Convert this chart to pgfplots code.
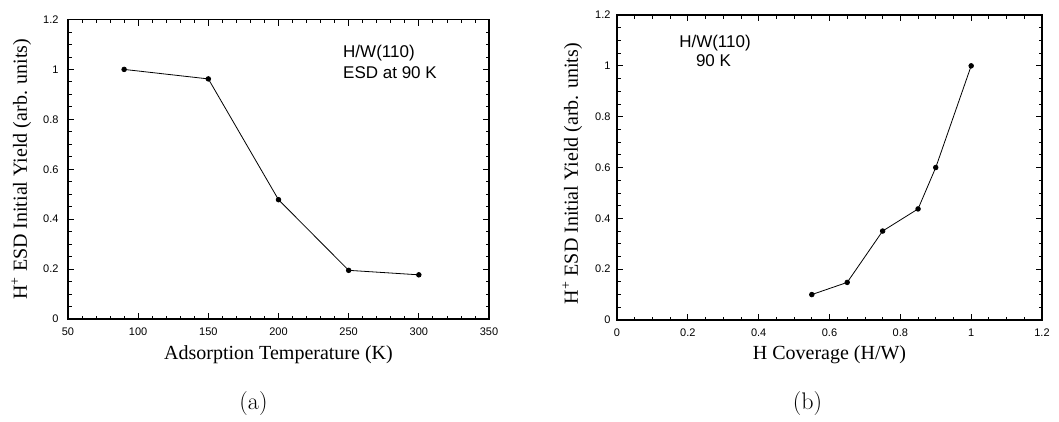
\documentclass[border=0pt]{standalone}
\usepackage{pgfplots}
\pgfplotsset{compat=1.18}
\usepackage{fontspec}
\newfontfamily\helv{Liberation Sans}
\newfontfamily\tms{Liberation Serif}

\pgfplotsset{
  esdaxis/.style={
    scale only axis,
    axis line style={line width=1.1pt},
    every tick/.style={line width=0.8pt, black},
    major tick length=6pt, minor tick length=3.5pt,
    tick align=inside,
    ymin=0, ymax=1.2,
    ytick={0,0.2,0.4,0.6,0.8,1,1.2},
    minor y tick num=3,
    /pgf/number format/assume math mode=true,
    tick label style={font=\helv\fontsize{11}{13}\selectfont},
    label style={font=\tms\fontsize{20}{24}\selectfont},
    xticklabel style={yshift=-5pt},
    ylabel={H\textsuperscript{+} ESD Initial Yield (arb. units)},
  },
  yieldline/.style={black, line width=0.8pt, mark=*, mark size=2.3pt,
    mark options={solid, fill=black}},
}

\begin{document}
\begin{tikzpicture}[x=1pt, y=1pt]
\useasboundingbox (0,-422) rectangle (1059,0);

% (a) yield versus adsorption temperature
\begin{axis}[esdaxis,
  at={(68pt,-319pt)}, anchor=south west,
  width=421pt, height=299.5pt,
  xmin=50, xmax=350,
  xtick={50,100,150,200,250,300,350},
  minor x tick num=4,
  yticklabel style={xshift=-6pt},
  xlabel={Adsorption Temperature (K)},
  xlabel style={at={(axis description cs:0.5,-0.1336)}, anchor=base},
  ylabel style={at={(axis description cs:-0.0974,0.5)}, anchor=base},
]
\addplot[yieldline] coordinates {
  (90,1.0) (150,0.962) (200,0.478) (250,0.195) (300,0.177)
};
\end{axis}

% (b) yield versus coverage
\begin{axis}[esdaxis,
  at={(617pt,-320pt)}, anchor=south west,
  width=425pt, height=305pt,
  xmin=0, xmax=1.2,
  xtick={0,0.2,0.4,0.6,0.8,1,1.2},
  minor x tick num=3,
  yticklabel style={xshift=-3pt},
  xlabel={H Coverage (H/W)},
  xlabel style={at={(axis description cs:0.5,-0.131)}, anchor=base},
  ylabel style={at={(axis description cs:-0.0918,0.48)}, anchor=base},
]
\addplot[yieldline] coordinates {
  (0.55,0.10) (0.65,0.148) (0.75,0.35) (0.85,0.437) (0.90,0.60) (1.0,1.0)
};
\end{axis}

% in-panel annotations
\node[anchor=base west, inner sep=0, font=\helv\fontsize{17}{20}\selectfont] at (343,-58) {H/W(110)};
\node[anchor=base west, inner sep=0, font=\helv\fontsize{17}{20}\selectfont] at (343,-79) {ESD at 90 K};
\node[anchor=base, inner sep=0, font=\helv\fontsize{17}{20}\selectfont] at (715,-48) {H/W(110)};
\node[anchor=base, inner sep=0, font=\helv\fontsize{17}{20}\selectfont] at (713.5,-67) {90 K};

% panel captions
\node[anchor=base, inner sep=0, font=\fontsize{24}{28}\selectfont] at (253.5,-409.5) {(a)};
\node[anchor=base, inner sep=0, font=\fontsize{24}{28}\selectfont] at (807.5,-409.5) {(b)};
\end{tikzpicture}
\end{document}
